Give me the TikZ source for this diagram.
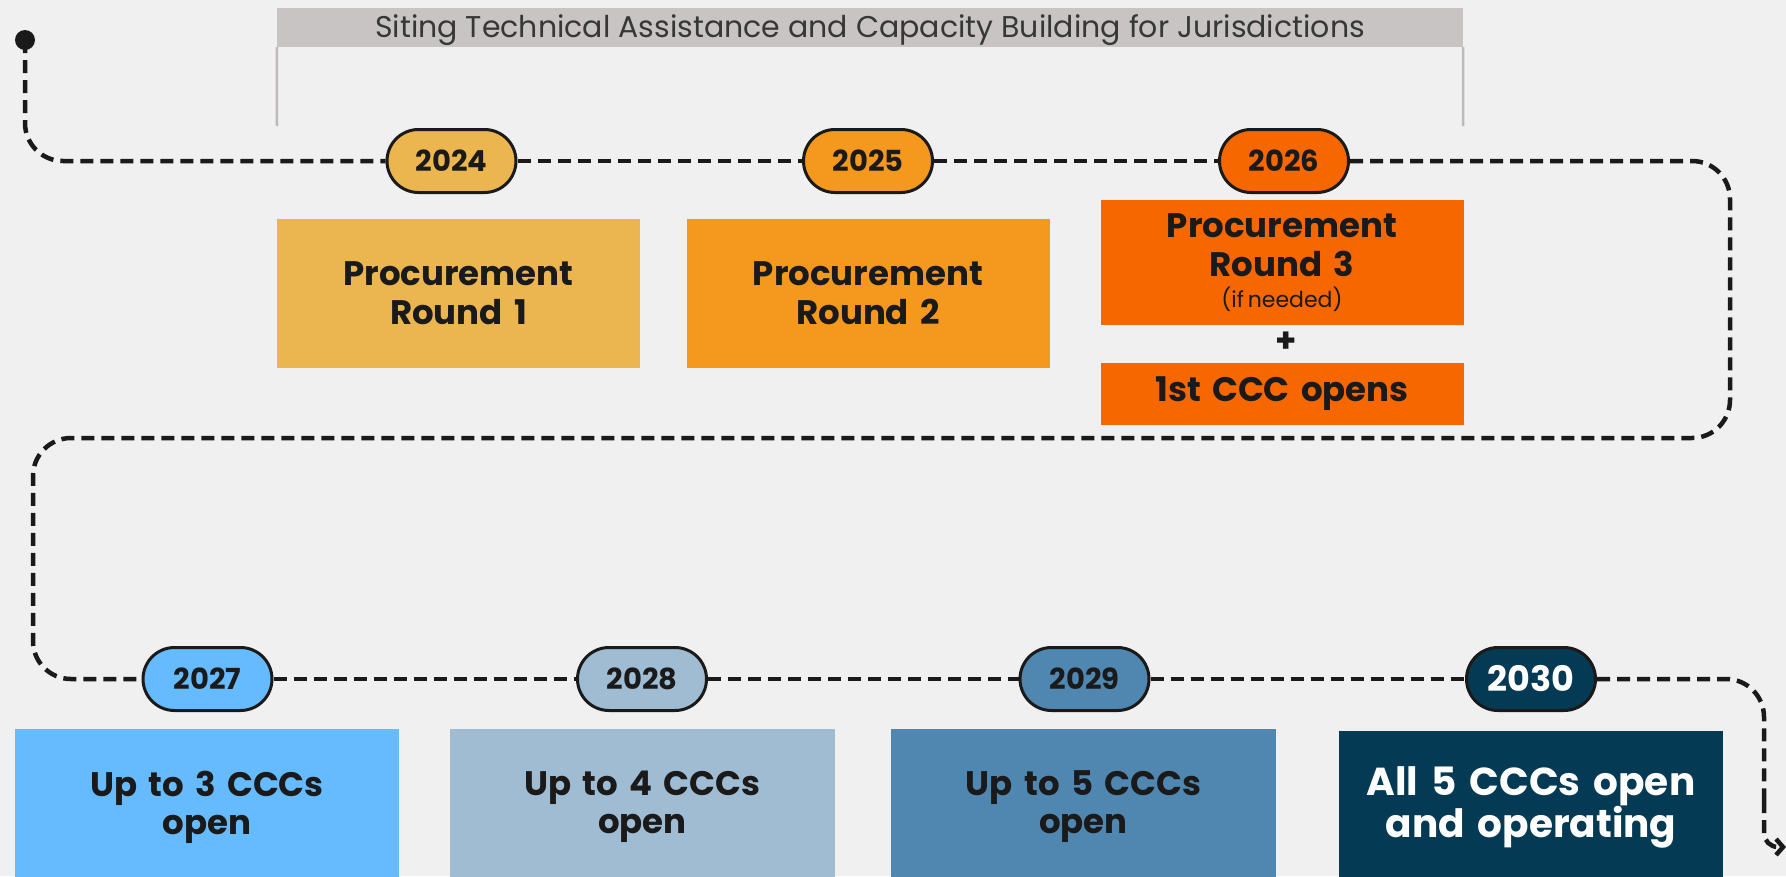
\documentclass[tikz,border=0pt]{standalone}
\usepackage{fontspec}
\setmainfont{Poppins}
\usetikzlibrary{arrows.meta,shapes.misc}
\definecolor{bgr}{RGB}{240, 240, 240}
\definecolor{bar}{RGB}{200, 196, 196}
\definecolor{brl}{RGB}{190, 186, 186}
\definecolor{hdt}{RGB}{55, 55, 55}
\definecolor{ink}{RGB}{26, 26, 26}
\definecolor{amb}{RGB}{235, 181, 80}
\definecolor{ora}{RGB}{245, 152, 30}
\definecolor{rus}{RGB}{247, 103, 0}
\definecolor{sky}{RGB}{102, 187, 255}
\definecolor{mis}{RGB}{160, 188, 211}
\definecolor{stl}{RGB}{79, 135, 176}
\definecolor{nav}{RGB}{5, 58, 85}

\tikzset{
    year/.style={rounded rectangle, draw=ink, line width=3pt, fill=#1, minimum width=129pt, minimum height=63pt, inner sep=0pt, text=ink, font=\fontsize{29}{29}\selectfont\bfseries},
    card/.style={fill=#1, minimum width=363pt, inner sep=0pt, text width=360pt, align=center, text=ink, font=\fontsize{34}{39}\selectfont\bfseries},
    trail/.style={color=ink, line width=4.5pt, dash pattern=on 13pt off 7pt, rounded corners=38pt}
}

\begin{document}
\begin{tikzpicture}[x=1pt, y=-1pt]
        \fill[bgr] (0, 0) rectangle (1786, 876);
        \useasboundingbox (0, 0) rectangle (1786, 876);

        % header bracket
        \node[fill=bar, minimum width=1186pt, minimum height=39pt, inner sep=0pt] (hdr) at (870, 27.5) {};
        \node[text=hdt, font=\fontsize{30}{30}\selectfont, inner sep=0pt] (hdrt) at (870, 30) {Siting Technical Assistance and Capacity Building for Jurisdictions};
        \coordinate (hdl) at (277, 126);
        \coordinate (hdr2) at (1463, 126);
        \draw[brl, line width=2.5pt] (hdr.south west) -- (hdl);
        \draw[brl, line width=2.5pt] (hdr.south east) -- (hdr2);

        % years
        \node[year=amb] (y24) at (451.5, 161) {2024};
        \node[year=ora] (y25) at (868, 161) {2025};
        \node[year=rus] (y26) at (1284, 161) {2026};
        \node[year=sky] (y27) at (207.5, 679) {2027};
        \node[year=mis] (y28) at (642, 679) {2028};
        \node[year=stl] (y29) at (1084.5, 679) {2029};
        \node[year=nav, text=white, font=\fontsize{35}{35}\selectfont\bfseries] (y30) at (1531, 679) {2030};

        % cards
        \node[card=amb, minimum height=149pt] (c24) at (458.5, 293.5) {Procurement\\Round 1};
        \node[card=ora, minimum height=149pt] (c25) at (868, 293.5) {Procurement\\Round 2};
        \node[card=rus, minimum height=125pt] (c26) at (1282, 262.5) {Procurement\\Round 3\\[-8pt]{\fontsize{22}{24}\selectfont\mdseries(if\,needed)}};
        \node[text=ink, font=\fontsize{34}{34}\selectfont\bfseries] (plus) at (1286, 342) {+};
        \node[card=rus, minimum height=62pt] (c26b) at (1282, 394) {1st CCC opens};
        \node[card=sky, minimum width=384pt, minimum height=156pt, font=\fontsize{34}{38}\selectfont\bfseries] (c27) at (207, 807) {Up to 3 CCCs\\open};
        \node[card=mis, minimum width=385pt, minimum height=156pt, font=\fontsize{34}{38}\selectfont\bfseries] (c28) at (642.5, 807) {Up to 4 CCCs\\open};
        \node[card=stl, minimum width=385pt, minimum height=156pt, font=\fontsize{34}{38}\selectfont\bfseries] (c29) at (1083.5, 807) {Up to 5 CCCs\\open};
        \node[card=nav, minimum width=384pt, minimum height=152pt, text=white, font=\fontsize{39}{42}\selectfont\bfseries] (c30) at (1531, 807) {All 5 CCCs open\\and operating};

        % dashed route
        \coordinate (start) at (25, 40);
        \coordinate (tr) at (1730, 438);
        \coordinate (tl) at (33, 438);
        \coordinate (dn) at (1764, 800);
        \coordinate (fin) at (1786, 847);
        \fill[ink] (start) circle (10pt);
        \draw[trail] (start) |- (y24.west);
        \draw[trail] (y24.east) -- (y25.west);
        \draw[trail] (y25.east) -- (y26.west);
        \draw[trail] (y26.east) -| (tr) -- (tl) |- (y27.west);
        \draw[trail] (y27.east) -- (y28.west);
        \draw[trail] (y28.east) -- (y29.west);
        \draw[trail] (y29.east) -- (y30.west);
        \draw[trail] (y30.east) -| (dn);
        \draw[trail, rounded corners=14pt, -{Straight Barb[length=7pt, width=16pt]}] (dn) |- (fin);
    \end{tikzpicture}
\end{document}
